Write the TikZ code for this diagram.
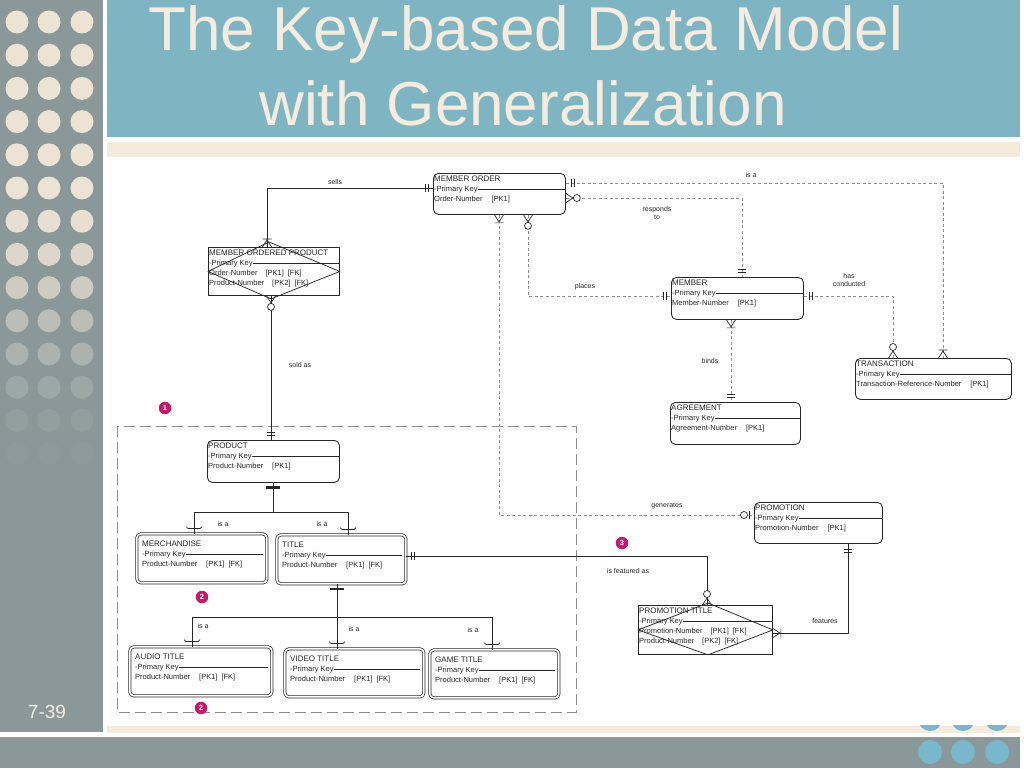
\documentclass[tikz,border=0pt]{standalone}
\usepackage{fontspec}
\setmainfont{Liberation Sans}
\usetikzlibrary{calc}
\definecolor{slate}{HTML}{8A989A}
\definecolor{band}{HTML}{7FB4C3}
\definecolor{cream}{HTML}{F5EBDC}
\definecolor{dotc}{HTML}{ECE3D4}
\definecolor{tdot}{HTML}{7BB7CC}
\definecolor{ink}{HTML}{262626}
\definecolor{dgray}{HTML}{8C8C8C}
\definecolor{badgec}{HTML}{C51A6A}
\definecolor{titlec}{HTML}{F4ECDF}
\tikzset{
  pOne/.pic={\draw[line width=0.7pt] (5,-4) -- (5,4) (8,-4) -- (8,4);},
  pZmany/.pic={\draw[line width=0.7pt] (0,-4.5) -- (7,0) -- (0,4.5); \draw[line width=0.7pt, fill=white] (11,0) circle (3.5pt);},
  pOmany/.pic={\draw[line width=0.7pt] (0,-4.5) -- (7,0) -- (0,4.5) (8,-4.5) -- (8,4.5);},
  pZone/.pic={\draw[line width=0.7pt] (5,-4) -- (5,4); \draw[line width=0.7pt, fill=white] (10,0) circle (3.5pt);},
  pCup/.pic={\draw[line width=0.7pt] (7,-8) -- (5,-6) -- (5,6) -- (7,8);},
  pDisc/.pic={\draw[line width=2.4pt] (4.5,-7) -- (4.5,7);},
}
% name, x, y, w, h, style, inset, title, attribute
\newcommand{\Ent}[9]{%
  \node[#6, minimum width=#4pt, minimum height=#5pt, anchor=north west] (#1) at (#2,#3) {};
  \node[ett] (#1-t) at ([shift={(#7,#7+4.5)}]#1.north west) {#8};
  \node[et] (#1-k) at ([shift={(#7,#7+15.5)}]#1.north west) {-Primary Key};
  \coordinate (#1-r) at ([xshift=-#7pt+1pt]#1.east);
  \draw[ink, line width=0.6pt] (#1-k.east) -- (#1-k.east -| #1-r);
  \node[et] (#1-a) at ([shift={(#7,#7+25.5)}]#1.north west) {#9};
}
\begin{document}
\begin{tikzpicture}[x=1pt,y=-1pt,line join=round,
  entbox/.style={draw=ink, line width=0.85pt, rounded corners=5pt, fill=white, inner sep=0pt},
  assocbox/.style={draw=ink, line width=0.85pt, fill=white, inner sep=0pt},
  subbox/.style={draw=ink, line width=0.75pt, double=white, double distance=1.6pt, rounded corners=4pt, inner sep=0pt},
  et/.style={anchor=west, inner sep=0pt, font=\fontsize{7.5}{9}\selectfont, text=ink},
  ett/.style={anchor=west, inner sep=0pt, font=\fontsize{8}{9}\selectfont, text=ink},
  lab/.style={inner sep=0pt, font=\fontsize{7}{8.5}\selectfont, text=ink, align=center},
  sl/.style={draw=ink, line width=0.85pt},
  dl/.style={draw=dgray, line width=0.7pt, dash pattern=on 3pt off 2.5pt},
  bigdash/.style={draw=dgray, line width=0.7pt, dash pattern=on 11pt off 5pt},
  badge/.style={circle, fill=badgec, text=white, font=\bfseries\fontsize{7.5}{7.5}\selectfont, inner sep=0pt, minimum size=12.5pt},
  ttl/.style={inner sep=0pt, anchor=base, text=titlec, font=\fontsize{62}{62}\selectfont},
]
\useasboundingbox (0,0) rectangle (1024,768);
% ---------- slide background ----------
\fill[white] (0,0) rectangle (1024,768);
\fill[slate] (0,0) rectangle (103,732);
\fill[band] (107,0) rectangle (1020,137);
\fill[cream] (107,142) rectangle (1020,157);
\fill[cream] (107,726) rectangle (1020,733);
\fill[slate] (0,737) rectangle (1020,768);
\foreach \r/\o in {0/1,1/1,2/1,3/1,4/1,5/1,6/0.95,7/0.85,8/0.7,9/0.5,10/0.35,11/0.2,12/0.1,13/0.03}{
  \foreach \c in {17,49,82}{
    \fill[dotc, opacity=\o] (\c,22+33.2*\r) circle (11.5pt);
  }
}
\foreach \c in {930,963,997}{\fill[tdot] (\c,752) circle (12pt);}
\begin{scope}
  \clip (900,725) rectangle (1020,733);
  \foreach \c in {930,963,997}{\fill[tdot] (\c,719) circle (12pt);}
\end{scope}
\node[ttl] (t1) at (526,51) {The Key-based Data Model};
\node[ttl] (t2) at (523,125) {with Generalization};
\node[inner sep=0pt, anchor=base, text=titlec, font=\fontsize{19}{19}\selectfont] (pg) at (47,718) {7-39};
% ---------- dashed generalization box ----------
\draw[bigdash] (117,426) rectangle (576,712);
% ---------- entities ----------
\Ent{mo}{433}{173}{132}{41}{entbox}{1}{MEMBER ORDER}{Order-Number\hspace{9pt}[PK1]}
\Ent{mop}{208}{247}{131}{48}{assocbox}{1}{MEMBER ORDERED PRODUCT}{Order-Number\hspace{8pt}[PK1]\hspace{4pt}[FK]}
\node[et] (mop-b) at ([shift={(1,36.5)}]mop.north west) {Product-Number\hspace{8pt}[PK2]\hspace{4pt}[FK]};
\draw[ink, line width=0.75pt] (mop.west) -- ([shift={(61,-5)}]mop.north west) -- (mop.east) -- ([shift={(63,3)}]mop.south west) -- cycle;
\Ent{mem}{671}{277}{132}{42}{entbox}{1}{MEMBER}{Member-Number\hspace{9pt}[PK1]}
\Ent{tr}{855}{358}{156}{41}{entbox}{1}{TRANSACTION}{Transaction-Reference-Number\hspace{9pt}[PK1]}
\Ent{ag}{670}{402}{130}{42}{entbox}{1}{AGREEMENT}{Agreement-Number\hspace{9pt}[PK1]}
\Ent{prod}{207}{440}{132}{42}{entbox}{1}{PRODUCT}{Product-Number\hspace{9pt}[PK1]}
\Ent{promo}{754}{502}{128}{41}{entbox}{1}{PROMOTION}{Promotion-Number\hspace{9pt}[PK1]}
\Ent{pt}{638}{605}{134}{49}{assocbox}{1}{PROMOTION TITLE}{Promotion-Number\hspace{8pt}[PK1]\hspace{4pt}[FK]}
\node[et] (pt-b) at ([shift={(1,37)}]pt.north west) {Product-Number\hspace{8pt}[PK2]\hspace{4pt}[FK]};
\draw[ink, line width=0.75pt] (pt.west) -- ([shift={(70,-2)}]pt.north west) -- (pt.east) -- ([shift={(70,0)}]pt.south west) -- cycle;
\Ent{mer}{136.5}{533.5}{130}{49}{subbox}{5.5}{MERCHANDISE}{Product-Number\hspace{9pt}[PK1]\hspace{4pt}[FK]}
\Ent{tit}{276.5}{534.5}{129}{49}{subbox}{5.5}{TITLE}{Product-Number\hspace{9pt}[PK1]\hspace{4pt}[FK]}
\Ent{aud}{129.5}{646.5}{142}{49}{subbox}{5.5}{AUDIO TITLE}{Product-Number\hspace{9pt}[PK1]\hspace{4pt}[FK]}
\Ent{vid}{284.5}{648.5}{139}{48}{subbox}{5.5}{VIDEO TITLE}{Product-Number\hspace{9pt}[PK1]\hspace{4pt}[FK]}
\Ent{game}{429.5}{649.5}{129}{48}{subbox}{5.5}{GAME TITLE}{Product-Number\hspace{9pt}[PK1]\hspace{4pt}[FK]}
% ---------- attachment points ----------
\coordinate (mo-w) at ([shift={(0,15)}]mo.north west);
\coordinate (mop-n) at ([shift={(59,0)}]mop.north west);
\coordinate (mop-s) at ([shift={(63,0)}]mop.south west);
\coordinate (prod-n) at ([shift={(64,0)}]prod.north west);
\coordinate (mo-s1) at ([shift={(66,0)}]mo.south west);
\coordinate (promo-w) at ([shift={(0,13)}]promo.north west);
\coordinate (mo-s2) at ([shift={(95,0)}]mo.south west);
\coordinate (mem-w) at ([shift={(0,19)}]mem.north west);
\coordinate (mo-e1) at ([shift={(0,10)}]mo.north east);
\coordinate (tr-n1) at ([shift={(88,0)}]tr.north west);
\coordinate (mo-e2) at ([shift={(0,25)}]mo.north east);
\coordinate (mem-n) at ([shift={(71,0)}]mem.north west);
\coordinate (mem-e) at ([shift={(0,19)}]mem.north east);
\coordinate (tr-n2) at ([shift={(38,0)}]tr.north west);
\coordinate (mem-s) at ([shift={(60,0)}]mem.south west);
\coordinate (ag-n) at ([shift={(61,0)}]ag.north west);
\coordinate (prod-s) at ([shift={(66,0)}]prod.south west);
\coordinate (j1) at ([shift={(0,30)}]prod-s);
\coordinate (mer-n) at ([shift={(57.5,0)}]mer.north west);
\coordinate (tit-n) at ([shift={(71.5,0)}]tit.north west);
\coordinate (tit-s) at ([shift={(60.5,0)}]tit.south west);
\coordinate (j2) at ([shift={(0,33)}]tit-s);
\coordinate (aud-n) at ([shift={(62.5,0)}]aud.north west);
\coordinate (vid-n) at ([shift={(52.5,0)}]vid.north west);
\coordinate (game-n) at ([shift={(62.5,0)}]game.north west);
\coordinate (tit-e) at ([shift={(0,21.5)}]tit.north east);
\coordinate (pt-n) at ([shift={(69,0)}]pt.north west);
\coordinate (promo-s) at ([shift={(94,0)}]promo.south west);
\coordinate (pt-e) at ([shift={(0,28)}]pt.north east);
% ---------- connectors ----------
\draw[sl] (mo-w) -| (mop-n);
\draw[sl] (mop-s) -- (prod-n);
\draw[dl] (mo-s1) |- (promo-w);
\draw[dl] (mo-s2) |- (mem-w);
\draw[dl] (mo-e1) -| (tr-n1);
\draw[dl] (mo-e2) -| (mem-n);
\draw[dl] (mem-e) -| (tr-n2);
\draw[dl] (mem-s) -- (ag-n);
\draw[sl] (prod-s) -- (j1);
\draw[sl] (mer-n) |- (j1) -| (tit-n);
\draw[sl] (tit-s) -- (vid-n);
\draw[sl] (aud-n) |- (j2) -| (game-n);
\draw[sl] (tit-e) -| (pt-n);
\draw[sl] (promo-s) |- (pt-e);
% ---------- cardinality symbols ----------
\pic[color=ink, rotate=180] at (mo-w) {pOne};
\pic[color=ink, rotate=90] at (mop-n) {pOmany};
\pic[color=ink, rotate=-90] at (mop-s) {pZmany};
\pic[color=ink, rotate=90] at (prod-n) {pOne};
\pic[color=ink, rotate=-90] at (mo-s1) {pOmany};
\pic[color=ink, rotate=180] at (promo-w) {pZone};
\pic[color=ink, rotate=-90] at (mo-s2) {pZmany};
\pic[color=ink, rotate=180] at (mem-w) {pOne};
\pic[color=ink, rotate=0] at (mo-e1) {pOne};
\pic[color=ink, rotate=90] at (tr-n1) {pOmany};
\pic[color=ink, rotate=0] at (mo-e2) {pZmany};
\pic[color=ink, rotate=90] at (mem-n) {pOne};
\pic[color=ink, rotate=0] at (mem-e) {pOne};
\pic[color=ink, rotate=90] at (tr-n2) {pZmany};
\pic[color=ink, rotate=-90] at (mem-s) {pOmany};
\pic[color=ink, rotate=90] at (ag-n) {pOne};
\pic[color=ink, rotate=-90] at (prod-s) {pDisc};
\pic[color=ink, rotate=90] at (mer-n) {pCup};
\pic[color=ink, rotate=90] at (tit-n) {pCup};
\pic[color=ink, rotate=-90] at (tit-s) {pDisc};
\pic[color=ink, rotate=90] at (aud-n) {pCup};
\pic[color=ink, rotate=90] at (vid-n) {pCup};
\pic[color=ink, rotate=90] at (game-n) {pCup};
\pic[color=ink, rotate=0] at (tit-e) {pOne};
\pic[color=ink, rotate=90] at (pt-n) {pZmany};
\pic[color=ink, rotate=-90] at (promo-s) {pOne};
\pic[color=ink, rotate=0] at (pt-e) {pOmany};
% ---------- relationship labels ----------
\node[lab] (l1) at (335,182) {sells};
\node[lab] (l2) at (300,365) {sold as};
\node[lab] (l3) at (751,175) {is a};
\node[lab] (l4) at (657,213) {responds\\to};
\node[lab] (l5) at (585,287) {places};
\node[lab] (l6) at (849,280) {has\\conducted};
\node[lab] (l7) at (710,361) {binds};
\node[lab] (l8) at (667,506) {generates};
\node[lab] (l9) at (628,571) {is featured as};
\node[lab] (l10) at (825,621) {features};
\node[lab] (l11) at (223,524) {is a};
\node[lab] (l12) at (322,524) {is a};
\node[lab] (l13) at (203,626) {is a};
\node[lab] (l14) at (354,629) {is a};
\node[lab] (l15) at (473,630) {is a};
% ---------- badges ----------
\node[badge] (b1) at (165,408) {1};
\node[badge] (b2) at (202,597) {2};
\node[badge] (b3) at (201,708) {2};
\node[badge] (b4) at (622,543) {3};
\end{tikzpicture}
\end{document}
